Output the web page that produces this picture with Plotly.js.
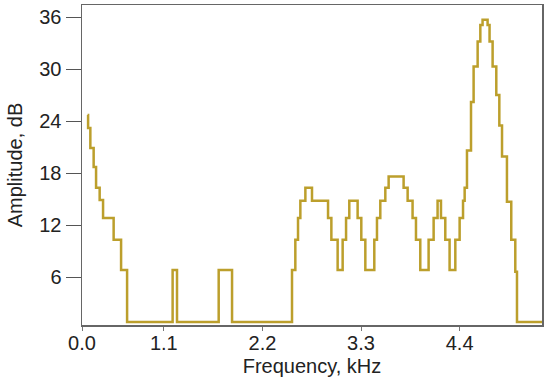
<!DOCTYPE html>
<html>
<head>
<meta charset="utf-8">
<script src="https://cdn.plot.ly/plotly-3.0.1.min.js"></script>
<style>
  html, body { margin: 0; padding: 0; background: #fff; }
  #chart { width: 550px; height: 387px; }
</style>
</head>
<body>
<div id="chart"></div>
<script>
// step starts (kHz) and the level (dB) that begins there
var freqKHz = [0.249, 0.255, 0.280, 0.317, 0.344, 0.384, 0.422, 0.540, 0.623, 0.690,
    1.198, 1.247, 1.712, 1.861, 2.530, 2.567, 2.597, 2.623, 2.679, 2.753,
    2.932, 2.969, 3.039, 3.095, 3.133, 3.169, 3.262, 3.303, 3.348, 3.448,
    3.478, 3.515, 3.571, 3.608, 3.775, 3.820, 3.875, 3.913, 3.961, 4.054,
    4.110, 4.154, 4.192, 4.240, 4.288, 4.352, 4.400, 4.438, 4.456, 4.482,
    4.527, 4.556, 4.601, 4.631, 4.656, 4.712, 4.734, 4.768, 4.809, 4.843,
    4.873, 4.928, 4.976, 5.021, 5.040, 5.32];
var ampDb = [24.7, 23.2, 20.9, 18.7, 16.3, 14.9, 12.8, 10.3, 6.8, 0.8,
    6.8, 0.8, 6.8, 0.8, 6.8, 10.3, 12.8, 14.8, 16.3, 14.8,
    12.8, 10.3, 6.8, 10.3, 12.8, 14.8, 12.8, 10.3, 6.8, 10.3,
    12.8, 14.8, 16.3, 17.6, 16.3, 14.8, 12.8, 10.3, 6.8, 10.3,
    12.8, 14.8, 12.8, 10.3, 6.8, 10.3, 12.8, 14.8, 16.3, 20.6,
    26.2, 30.3, 33.2, 35.1, 35.7, 35.1, 33.2, 30.3, 27.0, 23.5,
    19.9, 14.7, 10.3, 6.6, 0.8, 0.8];

var xRange = [0.187, 5.319];
var xTickVals = [0.187, 1.1, 2.2, 3.3, 4.4];
var xTickText = ['0.0', '1.1', '2.2', '3.3', '4.4'];
var yTickVals = [6, 12, 18, 24, 30, 36];

var spectrum = {
    x: freqKHz,
    y: ampDb,
    type: 'scatter',
    mode: 'lines',
    line: {shape: 'hv', color: '#bc9f2c', width: 2.5},
    hoverinfo: 'x+y'
};

var font = {family: '"Liberation Sans", Arial, sans-serif', size: 20, color: '#222'};

var layout = {
    width: 550,
    height: 387,
    margin: {l: 82, r: 8, t: 5, b: 62},
    paper_bgcolor: '#fff',
    plot_bgcolor: '#fff',
    showlegend: false,
    font: font,
    xaxis: {
        range: xRange,
        tickmode: 'array',
        tickvals: xTickVals,
        ticktext: xTickText,
        ticks: 'outside',
        ticklen: 4,
        tickcolor: '#777',
        ticklabelstandoff: -5,
        showgrid: false,
        zeroline: false,
        showline: true,
        mirror: true,
        linecolor: '#666',
        linewidth: 1.5,
        tickfont: font,
        title: {text: 'Frequency, kHz', font: font, standoff: 6}
    },
    yaxis: {
        range: [0.46, 37.4],
        tickmode: 'array',
        tickvals: yTickVals,
        ticks: 'outside',
        ticklen: 15,
        tickcolor: '#555',
        showgrid: false,
        zeroline: false,
        showline: true,
        mirror: true,
        linecolor: '#666',
        linewidth: 1.5,
        tickfont: font,
        title: {text: 'Amplitude, dB', font: font, standoff: 11}
    }
};

Plotly.newPlot('chart', [spectrum], layout, {displayModeBar: false, staticPlot: true});
</script>
</body>
</html>
